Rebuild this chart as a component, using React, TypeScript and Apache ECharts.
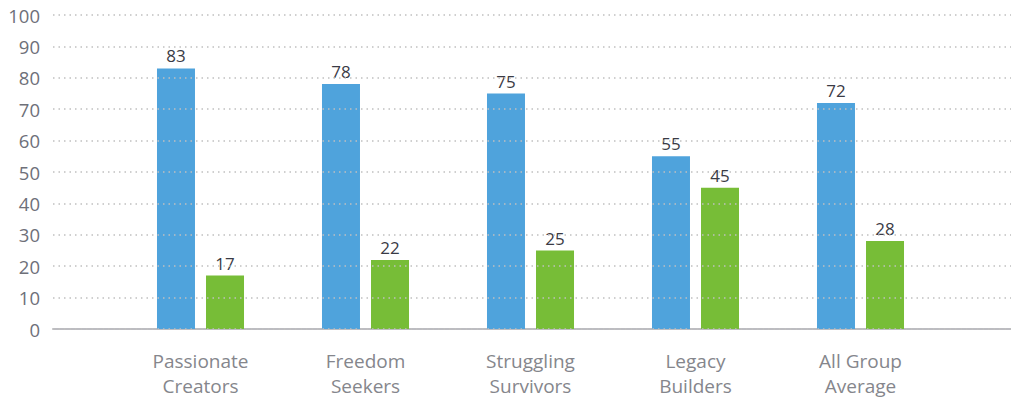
import React, { useEffect, useRef } from "react";
import * as echarts from "echarts";

const categories = ["Passionate\nCreators", "Freedom\nSeekers", "Struggling\nSurvivors", "Legacy\nBuilders", "All Group\nAverage"];
const blueValues = [83, 78, 75, 55, 72];
const greenValues = [17, 22, 25, 45, 28];
const yTicks = { min: 0, max: 100, interval: 10 };

export default function App() {
  const ref = useRef<HTMLDivElement>(null);
  useEffect(() => {
    const chart = echarts.init(ref.current!, null, { renderer: "svg" });
    const font = "'Open Sans', sans-serif";
    chart.setOption({
      animation: false,
      grid: [
        { left: 118, right: 68, top: 15, bottom: 69 },
        { left: 53, right: 0, top: 15, bottom: 69 },
      ],
      xAxis: [
        {
          type: "category",
          gridIndex: 0,
          data: categories,
          axisLine: { show: false },
          axisTick: { show: false },
          axisLabel: { color: "#85868c", fontSize: 19, fontFamily: font, lineHeight: 25, margin: 19 },
        },
        {
          type: "value",
          gridIndex: 1,
          min: 0,
          max: 1,
          axisLine: { show: true, onZero: false, lineStyle: { color: "#bcbcc1", width: 2 } },
          axisTick: { show: false },
          axisLabel: { show: false },
          splitLine: { show: false },
        },
      ],
      yAxis: [
        {
          type: "value",
          gridIndex: 0,
          min: yTicks.min,
          max: yTicks.max,
          interval: yTicks.interval,
          axisLabel: { show: false },
          axisLine: { show: false },
          axisTick: { show: false },
          splitLine: { show: false },
        },
        {
          type: "value",
          gridIndex: 1,
          z: 3,
          min: yTicks.min,
          max: yTicks.max,
          interval: yTicks.interval,
          axisLine: { show: false },
          axisTick: { show: false },
          axisLabel: { color: "#6e7079", fontSize: 18.5, fontFamily: font, margin: 13 },
          splitLine: { show: true, lineStyle: { color: "#c0c0c0", width: 1.5, type: [1.5, 4] } },
        },
      ],
      series: [
        {
          type: "bar",
          xAxisIndex: 0,
          yAxisIndex: 0,
          data: blueValues,
          barWidth: 38,
          barGap: "29%",
          itemStyle: { color: "#4fa3dc" },
          label: { show: true, position: "top", distance: 4, color: "#3a3b45", fontSize: 17, fontFamily: font },
        },
        {
          type: "bar",
          xAxisIndex: 0,
          yAxisIndex: 0,
          data: greenValues,
          barWidth: 38,
          barGap: "29%",
          itemStyle: { color: "#77bd37" },
          label: { show: true, position: "top", distance: 4, color: "#3a3b45", fontSize: 17, fontFamily: font },
        },
      ],
    });
    return () => chart.dispose();
  }, []);
  return <div ref={ref} style={{ position: "absolute", left: 0, top: 0, width: 1011, height: 398 }} />;
}
